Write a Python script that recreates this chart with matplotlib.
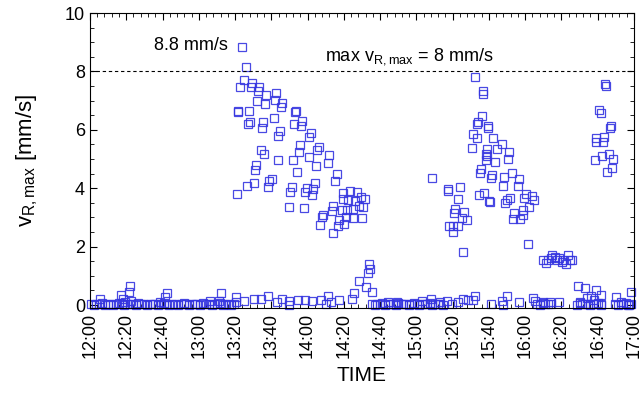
import matplotlib
matplotlib.use('Agg')
import matplotlib.pyplot as plt
from matplotlib.ticker import MultipleLocator, AutoMinorLocator

plt.rcParams['font.family'] = ['Liberation Sans', 'DejaVu Sans']
plt.rcParams['mathtext.default'] = 'regular'

# minutes after 12:00 and peak velocity [mm/s]
t_burst1 = [83.7, 85.9, 85.0, 82.9, 89.5, 88.8, 93.4, 92.8, 97.1, 102.4, 92.3, 96.5,
            102.0, 106.1, 105.4, 81.8, 81.4, 87.7, 113.4, 113.0, 88.3, 87.0, 95.6, 95.0,
            101.7, 112.5, 105.0, 103.9, 94.3, 96.1, 103.5, 112.2, 91.4, 91.0, 114.0, 100.2,
            98.7, 90.6, 86.4, 98.4, 111.2, 110.5, 81.1, 109.9, 117.1, 116.5, 121.7, 121.0,
            116.0, 115.1, 126.1, 125.4, 120.6, 132.0, 131.1, 124.5, 136.1, 135.1, 124.1, 119.9,
            118.6, 123.2, 122.4, 139.7, 143.4, 147.1, 139.3, 142.5, 146.2, 149.3, 151.7, 150.7,
            134.2, 133.3, 138.8, 141.9, 145.2, 148.5, 118.0, 128.3, 127.8, 126.9, 137.5, 141.0,
            144.9, 149.9, 137.0, 140.3, 134.2]
v_burst1 = [8.85, 8.14, 7.72, 7.48, 7.59, 7.48, 7.48, 7.34, 7.19, 7.25, 6.99, 6.87,
            7.02, 6.91, 6.77, 6.64, 6.60, 6.64, 6.64, 6.60, 6.26, 6.21, 6.26, 6.06,
            6.39, 6.20, 5.96, 5.80, 5.31, 5.19, 4.97, 4.97, 4.79, 4.62, 4.57, 4.32,
            4.25, 4.17, 4.08, 4.05, 4.05, 3.88, 3.79, 3.35, 6.30, 6.14, 5.90, 5.74,
            5.48, 5.25, 5.42, 5.31, 5.06, 5.13, 4.85, 4.76, 4.49, 4.26, 4.19, 4.00,
            3.88, 3.96, 3.77, 3.85, 3.90, 3.88, 3.63, 3.60, 3.57, 3.71, 3.63, 3.35,
            3.39, 3.23, 3.25, 3.25, 3.28, 3.39, 3.31, 3.10, 3.00, 2.74, 2.93, 3.00,
            2.97, 2.99, 2.72, 2.77, 2.46]

t_rise = [144.3, 145.8, 148.5, 152.5, 153.6, 154.1, 154.5, 155.3]
v_rise = [0.20, 0.42, 0.82, 0.62, 1.10, 1.39, 1.22, 0.45]

t_burst2 = [212.4, 217.0, 216.6, 216.0, 214.2, 213.5, 219.7, 219.5, 211.1, 213.3, 210.7, 219.2,
            218.8, 218.2, 215.7, 215.1, 188.6, 197.6, 197.3, 203.9, 203.2, 214.4, 217.5, 220.3,
            201.3, 200.9, 206.5, 205.4, 207.8, 198.2, 200.4, 202.8, 200.0, 205.5, 222.5, 218.2,
            224.3, 227.0, 231.3, 230.7, 223.6, 221.6, 221.0, 228.4, 232.8, 236.6, 235.9, 227.6,
            220.6, 231.7, 229.8, 229.1, 240.5, 243.6, 239.5, 245.1, 242.3, 238.7, 234.0, 239.0,
            233.5, 237.2, 241.4]
v_burst2 = [7.80, 7.34, 7.23, 6.47, 6.28, 6.20, 6.14, 6.05, 5.86, 5.71, 5.39, 5.33,
            5.10, 4.97, 4.65, 4.51, 4.34, 3.96, 3.90, 4.03, 3.64, 3.77, 3.83, 3.56,
            3.29, 3.17, 3.20, 2.97, 2.91, 2.70, 2.70, 2.72, 2.51, 1.83, 5.73, 5.17,
            5.33, 5.51, 5.24, 5.00, 4.90, 4.47, 4.36, 4.38, 4.51, 4.32, 4.08, 4.09,
            3.54, 3.65, 3.60, 3.50, 3.80, 3.73, 3.68, 3.60, 3.37, 3.25, 3.17, 3.08,
            2.95, 2.96, 2.09]

t_plateau = [250.0, 251.5, 252.8, 254.6, 254.1, 256.5, 257.4, 258.9, 260.2, 261.1, 262.5,
             263.8, 264.8, 265.7]
v_plateau = [1.54, 1.43, 1.56, 1.71, 1.60, 1.65, 1.54, 1.60, 1.48, 1.56, 1.40,
             1.71, 1.54, 1.56]

t_burst3 = [284.1, 284.6, 281.0, 281.7, 287.2, 286.9, 279.1, 279.3, 283.5, 282.8, 278.5,
            282.2, 286.3, 288.3, 287.7, 285.3]
v_burst3 = [7.57, 7.50, 6.68, 6.56, 6.13, 6.05, 5.71, 5.60, 5.74, 5.59, 4.97,
            5.10, 5.17, 5.01, 4.70, 4.57]

# quiet periods, near zero
t_quiet_a = [0.5, 2.0, 3.6, 5.1, 6.6, 8.2, 9.7, 11.1, 12.8, 14.3, 15.8, 17.4, 19.0,
             20.4, 22.1, 23.7, 25.2, 26.6, 28.3, 29.9, 31.3, 32.9, 34.5, 36.0, 37.5, 39.1,
             40.8, 42.2, 43.7, 45.3, 46.9, 48.3, 50.0, 51.6, 53.1, 54.5, 56.2, 57.8, 59.2,
             60.8, 62.4, 63.8, 65.5, 67.1, 68.5, 70.1, 71.8, 73.2, 74.7, 76.4, 77.9, 79.3]
v_quiet_a = [0.04, 0.02, 0.05, 0.03, 0.06, 0.02, 0.04, 0.05, 0.02, 0.03, 0.06, 0.04, 0.02,
             0.05, 0.03, 0.04, 0.02, 0.06, 0.03, 0.05, 0.02, 0.04, 0.03, 0.05, 0.02, 0.04,
             0.06, 0.03, 0.02, 0.05, 0.04, 0.02, 0.03, 0.06, 0.04, 0.02, 0.05, 0.03, 0.04,
             0.02, 0.06, 0.03, 0.05, 0.02, 0.04, 0.03, 0.06, 0.02, 0.05, 0.04, 0.02, 0.03]

t_quiet_b = [155.5, 157.0, 158.5, 159.9, 161.2, 162.8, 164.3, 165.7, 167.0, 168.6,
             170.1, 171.5, 172.8, 174.4, 175.9, 177.3, 178.6, 180.2, 181.7, 183.0,
             184.5, 186.1, 187.4, 188.9, 190.4, 191.7, 193.3, 194.8]
v_quiet_b = [0.04, 0.02, 0.05, 0.03, 0.06, 0.02, 0.04, 0.05, 0.03, 0.02,
             0.06, 0.04, 0.03, 0.05, 0.02, 0.04, 0.06, 0.03, 0.02, 0.05,
             0.04, 0.03, 0.06, 0.02, 0.04, 0.05, 0.03, 0.02]

t_quiet_c = [246.5, 248.0, 249.6, 251.0, 252.4, 254.0,
             268.5, 270.0, 271.6, 273.0, 274.4, 276.0, 277.6, 279.0, 280.4, 282.0,
             289.5, 291.0, 292.6, 294.0, 295.4, 297.0, 298.5]
v_quiet_c = [0.04, 0.02, 0.06, 0.03, 0.05, 0.04,
             0.02, 0.06, 0.03, 0.05, 0.04, 0.02, 0.05, 0.03, 0.06, 0.02,
             0.04, 0.02, 0.05, 0.03, 0.06, 0.02, 0.04]

t_scatter = [5.6, 17.3, 18.3, 22.2, 21.6, 22.8, 19.3, 42.7, 41.6, 38.8, 66.1, 72.0, 71.4,
             80.8, 80.5, 85.0, 90.5, 94.4, 98.3, 103.2, 106.1, 110.0, 110.0, 114.9, 118.8,
             122.7, 127.6, 131.1, 133.0, 129.9, 137.3, 164.6, 169.5, 183.1, 188.0, 193.0,
             196.9, 199.8, 202.7, 205.7, 208.6, 211.2, 212.5, 221.3, 227.2, 227.8, 230.1,
             236.4, 244.2, 245.7, 249.6, 253.5, 258.4, 269.1, 273.0, 278.9, 281.8, 276.5,
             273.9, 278.2, 281.8, 270.0, 290.2, 292.8, 298.4, 296.5]
v_scatter = [0.20, 0.36, 0.20, 0.65, 0.45, 0.15, 0.12, 0.41, 0.27, 0.10, 0.14, 0.41, 0.14,
             0.28, 0.10, 0.14, 0.20, 0.20, 0.30, 0.10, 0.20, 0.14, 0.00, 0.17, 0.17,
             0.14, 0.17, 0.31, 0.10, 0.04, 0.17, 0.10, 0.10, 0.14, 0.22, 0.10,
             0.14, 0.05, 0.10, 0.20, 0.17, 0.17, 0.31, 0.04, 0.14, 0.00, 0.30,
             0.10, 0.24, 0.14, 0.10, 0.10, 0.10, 0.65, 0.60, 0.50, 0.35, 0.31,
             0.24, 0.17, 0.05, 0.10, 0.26, 0.10, 0.45, 0.02]

tick_minutes = list(range(0, 301, 20))
tick_labels = ['12:00', '12:20', '12:40', '13:00', '13:20', '13:40', '14:00', '14:20',
               '14:40', '15:00', '15:20', '15:40', '16:00', '16:20', '16:40', '17:00']
v_limit = 8

fig = plt.figure(figsize=(6.39, 4.03), dpi=100)
ax = fig.add_axes([0.1408, 0.2357, 0.8513, 0.732])

groups = [(t_quiet_a, v_quiet_a), (t_quiet_b, v_quiet_b), (t_quiet_c, v_quiet_c),
          (t_scatter, v_scatter), (t_burst1, v_burst1), (t_rise, v_rise),
          (t_burst2, v_burst2), (t_plateau, v_plateau), (t_burst3, v_burst3)]
for t, v in groups:
    ax.plot(t, v, linestyle='none', marker='s', markersize=5.3,
            markerfacecolor='none', markeredgecolor='#3535e0', markeredgewidth=0.9,
            alpha=0.9, clip_on=False)

ax.axhline(v_limit, color='black', linestyle=(0, (3, 2.5)), linewidth=0.8)
ax.text(76, 8.9, '8.8 mm/s', ha='right', va='center', fontsize=13)
ax.text(129.5, 8.5, r'max v$_{R,max}$ = 8 mm/s', ha='left', va='center', fontsize=13)

ax.set_xlim(0, 300)
ax.set_ylim(-0.1, 10)
ax.set_xticks(tick_minutes)
ax.set_xticklabels(tick_labels, rotation=90)
ax.xaxis.set_minor_locator(AutoMinorLocator(5))
ax.yaxis.set_major_locator(MultipleLocator(2))
ax.yaxis.set_minor_locator(MultipleLocator(0.5))
ax.tick_params(which='both', direction='in', top=True, right=True, labelsize=13)
ax.tick_params(which='major', length=5, width=0.8)
ax.tick_params(which='minor', length=3, width=0.6)

ax.set_xlabel('TIME', fontsize=15, labelpad=6)
ax.set_ylabel(r'v$_{R,max}$ [mm/s]', fontsize=16, labelpad=18)

fig.savefig('out.png', dpi=100)
